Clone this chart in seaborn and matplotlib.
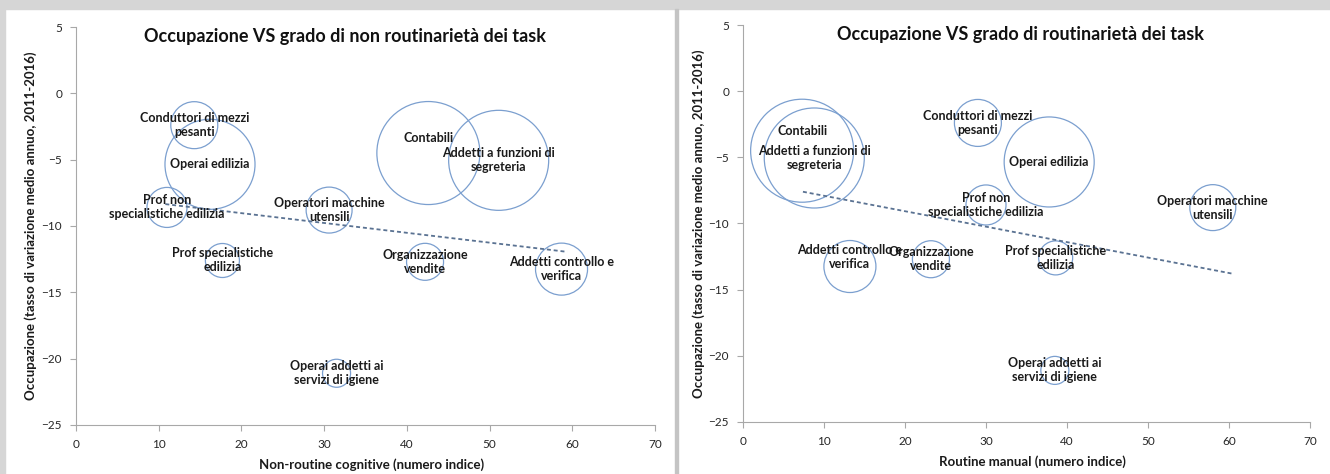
import numpy as np
import pandas as pd
import matplotlib.pyplot as plt
from matplotlib.patches import Rectangle
import seaborn as sns

professioni = [
    "Conduttori di mezzi\npesanti",
    "Operai edilizia",
    "Prof non\nspecialistiche edilizia",
    "Operatori macchine\nutensili",
    "Contabili",
    "Addetti a funzioni di\nsegreteria",
    "Prof specialistiche\nedilizia",
    "Organizzazione\nvendite",
    "Addetti controllo e\nverifica",
    "Operai addetti ai\nservizi di igiene",
]
occupazione = [-2.4, -5.35, -8.6, -8.8, -4.5, -5.05, -12.6, -12.7, -13.25, -21.1]
non_routine_cognitive = [14.3, 16.2, 11.0, 30.6, 42.6, 51.1, 17.7, 42.2, 58.7, 31.5]
routine_manual = [29.0, 37.8, 30.0, 58.0, 7.3, 8.8, 38.6, 23.2, 13.2, 38.5]
peso = [20.8, 76.4, 15.1, 19.9, 100, 94.3, 10.9, 12.9, 25.5, 7.4]

# linee di tendenza (estremi)
trend_ncog_x = [10.8, 59.4]
trend_ncog_y = [-8.35, -11.95]
trend_rman_x = [7.4, 60.5]
trend_rman_y = [-7.6, -13.8]

df = pd.DataFrame({
    "professione": professioni,
    "occupazione": occupazione,
    "ncog": non_routine_cognitive,
    "rman": routine_manual,
    "peso": peso,
})

sns.set_style("ticks")
plt.rcParams["font.family"] = ["Lato", "DejaVu Sans"]

BLU = "#7b9fcf"
TREND = "#5a7292"
ASSE = "#a8a8a8"

fig = plt.figure(figsize=(13.3, 4.74), dpi=100)
fig.patch.set_facecolor("white")
ax1 = fig.add_axes([76 / 1330, 1 - 425 / 474, 579 / 1330, 398 / 474])
ax2 = fig.add_axes([743 / 1330, 1 - 422 / 474, 567 / 1330, 397 / 474])

pannelli = [
    (ax1, "ncog", trend_ncog_x, trend_ncog_y,
     "Occupazione VS grado di non routinarietà dei task", 0.465,
     "Non-routine cognitive (numero indice)", {"Contabili": 11}),
    (ax2, "rman", trend_rman_x, trend_rman_y,
     "Occupazione VS grado di routinarietà dei task", 0.49,
     "Routine manual (numero indice)",
     {"Contabili": 14, "Addetti controllo e\nverifica": 7}),
]

for ax, col, tx, ty, titolo, tpos, xlab, spost in pannelli:
    sns.scatterplot(data=df, x=col, y="occupazione", size="peso",
                    sizes=(0, 5500), size_norm=(0, 100),
                    facecolor="none", edgecolor=BLU, linewidth=0.9,
                    legend=False, ax=ax, zorder=2)
    sns.lineplot(x=tx, y=ty, ax=ax, color=TREND, linewidth=1.3,
                 linestyle=(0, (2.2, 1.6)), zorder=3)
    for _, r in df.iterrows():
        ax.annotate(r["professione"], (r[col], r["occupazione"]),
                    xytext=(0, spost.get(r["professione"], 0)),
                    textcoords="offset points", ha="center", va="center",
                    fontsize=9, fontweight="bold", color="#1a1a1a",
                    linespacing=1.2, zorder=4)
    ax.set_xlim(0, 70)
    ax.set_ylim(-25, 5)
    ax.set_xticks(range(0, 71, 10))
    ax.set_yticks(range(-25, 6, 5))
    ax.tick_params(axis="both", length=4, width=0.8, color=ASSE,
                   labelsize=8.5, labelcolor="#262626", pad=6)
    for s in ["top", "right"]:
        ax.spines[s].set_visible(False)
    for s in ["left", "bottom"]:
        ax.spines[s].set_color(ASSE)
        ax.spines[s].set_linewidth(0.8)
    ax.set_xlabel(xlab, fontsize=9.5, fontweight="bold", color="#1a1a1a",
                  va="center")
    ax.set_ylabel("Occupazione (tasso di variazione medio annuo, 2011-2016)",
                  fontsize=9.5, fontweight="bold", color="#1a1a1a", va="center")
    ax.xaxis.set_label_coords(0.51, -0.1)
    ax.yaxis.set_label_coords(-0.078, 0.5)
    ax.text(tpos, 0.975, titolo, transform=ax.transAxes, ha="center",
            va="center", fontsize=13, fontweight="bold", color="#111111")
    ax.set_facecolor("none")

# cornice grigia dello screenshot
grigio = "#d6d6d6"
fig.patches.append(Rectangle((0, 1 - 9 / 474), 1, 9 / 474, transform=fig.transFigure,
                             color=grigio, zorder=0))
fig.patches.append(Rectangle((0, 0), 5 / 1330, 1, transform=fig.transFigure,
                             color=grigio, zorder=0))
fig.patches.append(Rectangle((675 / 1330, 0), 3 / 1330, 1 - 9 / 474,
                             transform=fig.transFigure, color="#c4c4c4", zorder=0))

fig.savefig("out.png", dpi=100)
